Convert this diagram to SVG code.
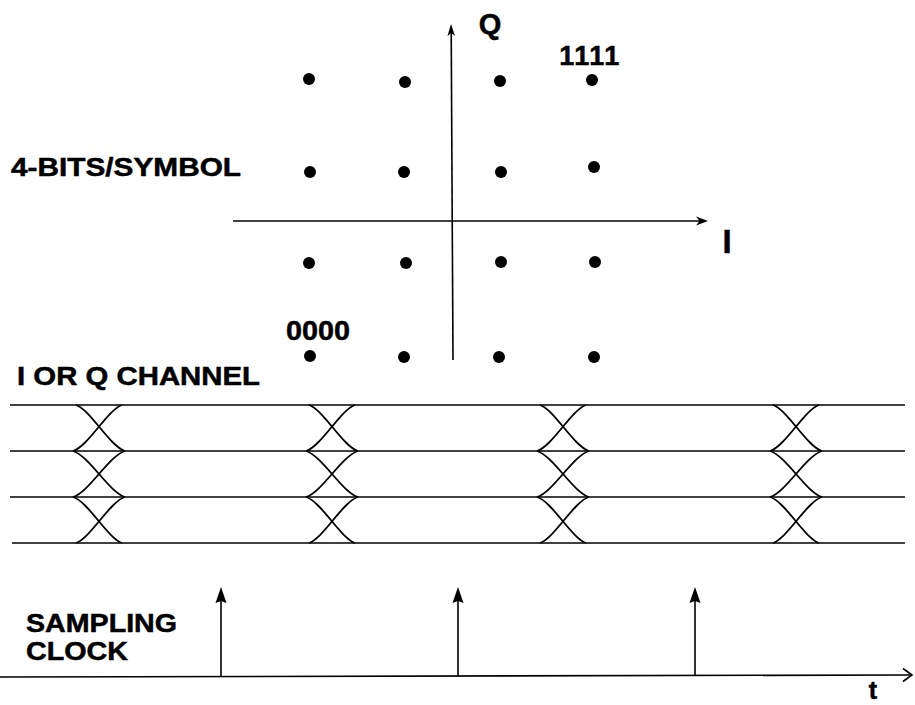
<svg xmlns="http://www.w3.org/2000/svg" xmlns:xlink="http://www.w3.org/1999/xlink" width="915" height="705" viewBox="0 0 915 705">
<style>
.t{font-family:"Liberation Sans",Arial,Helvetica,sans-serif;font-weight:bold;fill:#000;stroke:#000;stroke-width:0.5}
.ln{stroke:#000;stroke-width:1.6;fill:none}
.eye{stroke:#000;stroke-width:1.8;fill:none}
.dot{fill:#000}
</style>
<defs>
<g id="eyeX">
<path class="eye" d="M-23,405 C-9,409.5 11,446.5 26,451"/>
<path class="eye" d="M23,405 C9,409.5 -11,446.5 -26,451"/>
<path class="eye" d="M-26,451 C-10.4,455.5 10.4,492.5 26,497"/>
<path class="eye" d="M26,451 C10.4,455.5 -10.4,492.5 -26,497"/>
<path class="eye" d="M-26,497 C-11,501.5 9,538.5 23,543"/>
<path class="eye" d="M26,497 C11,501.5 -9,538.5 -23,543"/>
</g>
<polygon id="clkHead" points="0,0 -5.5,16 0,14 5.5,16"/>
</defs>
<rect width="915" height="705" fill="#fff"/>

<g id="constellation">
<g id="axes">
<line class="ln" x1="453" y1="360" x2="451.2" y2="30"/>
<polygon points="451,24 447.5,36 451.2,33 455,36" fill="#000"/>
<line class="ln" x1="233" y1="221" x2="702" y2="221"/>
<polygon points="708,221 696,216.5 699.5,221 696,225.5" fill="#000"/>
</g>
<g id="points">
<circle class="dot" cx="309" cy="79" r="6"/>
<circle class="dot" cx="405" cy="82" r="6"/>
<circle class="dot" cx="500" cy="81" r="6"/>
<circle class="dot" cx="592" cy="80" r="6"/>
<circle class="dot" cx="310" cy="172" r="6"/>
<circle class="dot" cx="404" cy="172" r="6"/>
<circle class="dot" cx="501" cy="172" r="6"/>
<circle class="dot" cx="594" cy="167" r="6"/>
<circle class="dot" cx="309" cy="263" r="6"/>
<circle class="dot" cx="406" cy="263" r="6"/>
<circle class="dot" cx="501" cy="262" r="6"/>
<circle class="dot" cx="595" cy="262" r="6"/>
<circle class="dot" cx="310" cy="356" r="6"/>
<circle class="dot" cx="404" cy="357" r="6"/>
<circle class="dot" cx="499" cy="357" r="6"/>
<circle class="dot" cx="594" cy="357" r="6"/>
</g>
<text class="t" x="490" y="34" font-size="29" text-anchor="middle">Q</text>
<text class="t" x="727" y="253" font-size="33" text-anchor="middle">I</text>
<text class="t" x="590" y="65" font-size="27" text-anchor="middle" letter-spacing="1.5">1111</text>
<text class="t" x="286" y="340" font-size="28" textLength="64" lengthAdjust="spacingAndGlyphs">0000</text>
</g>

<text id="lbl-bits" class="t" x="11" y="176" font-size="26" textLength="230" lengthAdjust="spacingAndGlyphs">4-BITS/SYMBOL</text>
<text id="lbl-chan" class="t" x="17" y="385" font-size="26" textLength="243" lengthAdjust="spacingAndGlyphs">I OR Q CHANNEL</text>

<g id="eye-diagram">
<line class="ln" x1="10" y1="405" x2="905" y2="405"/>
<line class="ln" x1="10" y1="451" x2="905" y2="451"/>
<line class="ln" x1="10" y1="497" x2="905" y2="497"/>
<line class="ln" x1="12" y1="543" x2="905" y2="543"/>
<use xlink:href="#eyeX" x="99"/>
<use xlink:href="#eyeX" x="332"/>
<use xlink:href="#eyeX" x="563"/>
<use xlink:href="#eyeX" x="796"/>
</g>

<g id="clock">
<text class="t" x="26" y="632" font-size="26" textLength="151" lengthAdjust="spacingAndGlyphs">SAMPLING</text>
<text class="t" x="26" y="660" font-size="26" textLength="102" lengthAdjust="spacingAndGlyphs">CLOCK</text>
<line class="ln" x1="0" y1="677" x2="910" y2="675"/>
<path class="ln" d="M903,668.5 L912,675 L903,681.5" stroke-width="2.2"/>
<line class="ln" x1="221" y1="677" x2="221" y2="598"/>
<use xlink:href="#clkHead" x="221" y="587"/>
<line class="ln" x1="458" y1="676.5" x2="458" y2="598"/>
<use xlink:href="#clkHead" x="458" y="587"/>
<line class="ln" x1="695" y1="676" x2="695" y2="598"/>
<use xlink:href="#clkHead" x="695" y="587"/>
<text class="t" x="873" y="699" font-size="25" text-anchor="middle">t</text>
</g>
</svg>
